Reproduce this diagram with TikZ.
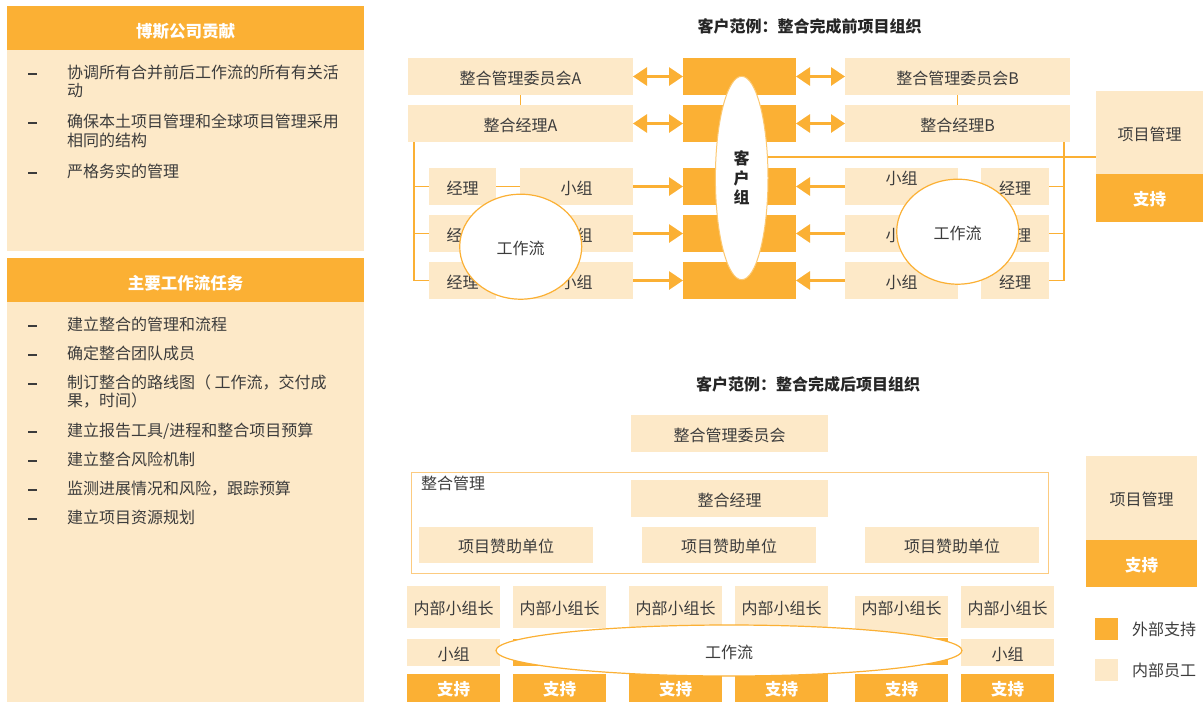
\documentclass[tikz,border=0pt]{standalone}
\usepackage{fontspec}
\setmainfont{Noto Sans CJK SC}
\usetikzlibrary{shapes.geometric,arrows.meta}
\definecolor{org}{HTML}{FBB034}
\definecolor{ltc}{HTML}{FDE9C8}
\definecolor{tx}{HTML}{3C3C3C}
\definecolor{bdc}{HTML}{FCCB80}
\newcommand\mybox[7]{\node[#2,anchor=north west,minimum width={#5-#3},minimum height={#6-#4}] (#1) at (#3,#4) {#7};}
\begin{document}
\begin{tikzpicture}[x=1pt,y=-1pt,
  every node/.style={inner sep=0pt,outer sep=0pt,text=tx,font=\fontsize{16}{18}\selectfont,text height=16pt,text depth=0.6pt},
  ltbox/.style={fill=ltc},
  orbox/.style={fill=org,text=white,font=\fontsize{16.5}{18}\selectfont\bfseries},
  hdbox/.style={orbox,text height=19.5pt},
  frame/.style={draw=bdc,line width=1pt},
  ln/.style={draw=org,line width=1.6pt},
  dbl/.style={draw=org,line width=3pt,{Triangle[length=14pt,width=18pt]}-{Triangle[length=14pt,width=18pt]}},
  sgl/.style={draw=org,line width=3pt,-{Triangle[length=14pt,width=18pt]}},
  ell/.style={ellipse,draw=org,fill=white,line width=1.2pt},
  ttl/.style={text=black!85,font=\fontsize{16}{18}\selectfont\bfseries},
  itm/.style={anchor=west},
  dsh/.style={fill=tx,minimum width=9,minimum height=1.8,text height={},text depth={}}]
\useasboundingbox (0,0) rectangle (1203,702);

% ---------------- left panel ----------------
\mybox{h1}{hdbox}{7}{6}{364}{50}{博斯公司贡献}
\mybox{b1}{ltbox}{7}{50}{364}{251}{}
\mybox{h2}{hdbox}{7}{258}{364}{302}{主要工作流任务}
\mybox{b2}{ltbox}{7}{302}{364}{702}{}

\foreach \yy/\nm in {74/d1,123/d2,173/d3,326/d4,355/d5,384/d6,432/d7,461/d8,490/d9,519/d10}
  \node[dsh] (\nm) at (32.5,\yy) {};
\node[itm] (a1) at (67,70.5) {协调所有合并前后工作流的所有有关活};
\node[itm] (a1b) at (67,88.5) {动};
\node[itm] (a2) at (67,119.5) {确保本土项目管理和全球项目管理采用};
\node[itm] (a2b) at (67,138.5) {相同的结构};
\node[itm] (a3) at (67,169.5) {严格务实的管理};
\node[itm] (c1) at (67,322.5) {建立整合的管理和流程};
\node[itm] (c2) at (67,351.5) {确定整合团队成员};
\node[itm] (c3) at (67,380.5) {制订整合的路线图（ 工作流，交付成};
\node[itm] (c3b) at (67,398.5) {果，时间）};
\node[itm] (c4) at (67,428.5) {建立报告工具/进程和整合项目预算};
\node[itm] (c5) at (67,457.5) {建立整合风险机制};
\node[itm] (c6) at (67,486.5) {监测进展情况和风险，跟踪预算};
\node[itm] (c7) at (67,515.5) {建立项目资源规划};

% ---------------- top diagram ----------------
\node[ttl] (t1) at (809.5,25) {客户范例：整合完成前项目组织};
\mybox{cmA}{ltbox}{408}{58}{633}{95}{整合管理委员会A}
\mybox{imA}{ltbox}{408}{105}{633}{142}{整合经理A}
\mybox{cmB}{ltbox}{845}{58}{1070}{95}{整合管理委员会B}
\mybox{imB}{ltbox}{845}{105}{1070}{142}{整合经理B}
\mybox{o1}{orbox}{683}{58}{796}{95}{}
\mybox{o2}{orbox}{683}{105}{796}{142}{}
\mybox{o3}{orbox}{683}{168}{796}{205}{}
\mybox{o4}{orbox}{683}{215}{796}{252}{}
\mybox{o5}{orbox}{683}{262}{796}{299}{}
\mybox{mL1}{ltbox}{429}{168}{496}{205}{经理}
\mybox{mL2}{ltbox}{429}{215}{496}{252}{经理}
\mybox{mL3}{ltbox}{429}{262}{496}{299}{经理}
\mybox{sL1}{ltbox}{520}{168}{633}{205}{小组}
\mybox{sL2}{ltbox}{520}{215}{633}{252}{小组}
\mybox{sL3}{ltbox}{520}{262}{633}{299}{小组}
\mybox{sR1}{ltbox}{845}{168}{958}{205}{}
\node (sR1t) at (901.5,176.5) {小组};
\mybox{sR2}{ltbox}{845}{215}{958}{252}{小组}
\mybox{sR3}{ltbox}{845}{262}{958}{299}{小组}
\mybox{mR1}{ltbox}{981}{168}{1049}{205}{经理}
\mybox{mR2}{ltbox}{981}{215}{1049}{252}{经理}
\mybox{mR3}{ltbox}{981}{262}{1049}{299}{经理}
\mybox{pm1}{ltbox}{1096}{91}{1203}{174}{项目管理}
\mybox{su1}{orbox}{1096}{174}{1203}{222}{支持}

\draw[ln] (cmA.south) -- (imA.north);
\draw[ln] (cmB.south) -- (imB.north);
\coordinate (lt0) at (414,142);
\draw[ln] (lt0) |- (mL3.west);
\draw[ln] (lt0 |- mL1.west) -- (mL1.west);
\draw[ln] (lt0 |- mL2.west) -- (mL2.west);
\draw[ln] (mL1.east) -- (sL1.west);
\coordinate (rt0) at (1064,142);
\draw[ln] (rt0) |- (mR3.east);
\draw[ln] (rt0 |- mR1.east) -- (mR1.east);
\draw[ln] (rt0 |- mR2.east) -- (mR2.east);
\coordinate (cgc) at (741.7,178);
\coordinate (pmj) at (1096,156.7);
\draw[ln] (cgc |- pmj) -- (pmj);

\draw[dbl] (cmA.east) -- (o1.west);
\draw[dbl] (imA.east) -- (o2.west);
\draw[dbl] (o1.east) -- (cmB.west);
\draw[dbl] (o2.east) -- (imB.west);
\draw[sgl] (sL1.east) -- (o3.west);
\draw[sgl] (sL2.east) -- (o4.west);
\draw[sgl] (sL3.east) -- (o5.west);
\draw[sgl] (sR1.west) -- (o3.east);
\draw[sgl] (sR2.west) -- (o4.east);
\draw[sgl] (sR3.west) -- (o5.east);

\node[ell,minimum width=122,minimum height=105] (wfL) at (520.7,246.7) {工作流};
\node[ell,minimum width=122,minimum height=105] (wfR) at (957.7,231.7) {工作流};
\node[ell,draw=org!70,line width=1pt,minimum width=52.6,minimum height=203.4,align=center,text=black!85,text height={},text depth={},font=\fontsize{16}{19.5}\selectfont\bfseries] (cg) at (cgc) {客\\户\\组};

% ---------------- bottom diagram ----------------
\node[ttl] (t2) at (808,383) {客户范例：整合完成后项目组织};
\mybox{cmC}{ltbox}{631}{415}{828}{452}{整合管理委员会}
\mybox{imF}{frame}{411}{472}{1048}{573}{}
\node[anchor=west] (imFl) at (421,481.5) {整合管理};
\mybox{imC}{ltbox}{631}{480}{828}{517}{整合经理}
\mybox{ps1}{ltbox}{419}{527}{593}{563}{项目赞助单位}
\mybox{ps2}{ltbox}{642}{527}{816}{563}{项目赞助单位}
\mybox{ps3}{ltbox}{865}{527}{1039}{563}{项目赞助单位}

\mybox{L1}{ltbox}{407}{586}{500}{628}{内部小组长}
\mybox{L2}{ltbox}{513}{586}{606}{628}{内部小组长}
\mybox{L3}{ltbox}{629}{586}{722}{628}{内部小组长}
\mybox{L4}{ltbox}{735}{586}{828}{628}{内部小组长}
\mybox{L5}{ltbox}{855}{596}{948}{637}{}
\node (L5t) at (901.5,606.5) {内部小组长};
\mybox{L6}{ltbox}{961}{586}{1054}{628}{内部小组长}

\mybox{G1}{ltbox}{407}{639}{500}{666}{小组}
\mybox{G2}{orbox}{513}{639}{606}{666}{}
\mybox{G3}{orbox}{629}{639}{722}{666}{}
\mybox{G4}{orbox}{735}{639}{828}{666}{}
\mybox{G5}{orbox}{855}{638}{948}{665}{}
\mybox{G6}{ltbox}{961}{639}{1054}{666}{小组}

\mybox{S1}{orbox}{407}{674}{500}{702}{支持}
\mybox{S2}{orbox}{513}{674}{606}{702}{支持}
\mybox{S3}{orbox}{629}{674}{722}{702}{支持}
\mybox{S4}{orbox}{735}{674}{828}{702}{支持}
\mybox{S5}{orbox}{855}{674}{948}{702}{支持}
\mybox{S6}{orbox}{961}{674}{1054}{702}{支持}

\node[ell,minimum width=466,minimum height=51] (wfB) at (729,650.5) {工作流};

\mybox{pm2}{ltbox}{1086}{456}{1197}{540}{项目管理}
\mybox{su2}{orbox}{1086}{540}{1197}{587}{支持}

\mybox{lg1}{orbox}{1095}{618}{1118}{640}{}
\node[anchor=west] (lg1t) at (1132,627.5) {外部支持};
\mybox{lg2}{ltbox}{1095}{659}{1118}{681}{}
\node[anchor=west] (lg2t) at (1132,668.5) {内部员工};
\end{tikzpicture}
\end{document}
